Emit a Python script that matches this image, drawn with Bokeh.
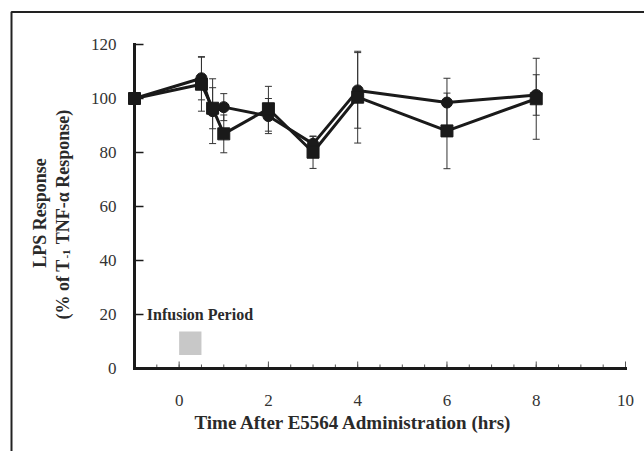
from math import pi
from bokeh.plotting import figure
from bokeh.models import Range1d, ColumnDataSource, Whisker, TeeHead, Label
from bokeh.core.properties import value
from bokeh.embed import file_html
from bokeh.resources import INLINE

# ---- data ----
time_hrs = [-1, 0.5, 0.75, 1, 2, 3, 4, 6, 8]
circle_vals = [100, 107.5, 95.3, 96.8, 93.5, 83.2, 103, 98.5, 101.3]
circle_err = [0, 8, 12, 5, 6.5, 2.7, 14, 9, 7.5]
square_vals = [100, 105.3, 96.4, 86.9, 96.2, 80.1, 100.5, 88, 99.9]
square_err = [0, 10, 7.6, 7, 8.3, 6, 17, 14, 15]
x_ticks = [0, 2, 4, 6, 8, 10]
x_tick_labels = ["0", "2", "4", "6", "8", "10"]
x_minor = [-0.5 + 0.5 * i for i in range(22)]
y_ticks = [0, 20, 40, 60, 80, 100, 120]
y_tick_labels = ["0", "20", "40", "60", "80", "100", "120"]
infusion = dict(left=[0], right=[0.5], bottom=[5], top=[13.7])

FONT = "Liberation Serif"
INK = "#1a1a1a"
TXT = "#2a2a2a"

# frame covers the whole canvas; axes are drawn inside it
X0, X1 = -1.0, 10.0   # axis extent
Y0, Y1 = 0.0, 120.0
PX_X = 491 / 11.0     # pixels per x unit
PX_Y = 324 / 120.0    # pixels per y unit

p = figure(width=644, height=451, output_backend="svg", toolbar_location=None,
           x_range=Range1d(X0 - 134 / PX_X, X0 + 644 / PX_X - 134 / PX_X),
           y_range=Range1d(Y0 - (451 - 368) / PX_Y, Y0 + 368 / PX_Y),
           x_axis_location=None, y_axis_location=None,
           min_border=0)
p.outline_line_color = None
p.xgrid.visible = False
p.ygrid.visible = False
p.background_fill_color = "white"
p.border_fill_color = "white"

# outer frame (top and left edges)
fx = X0 - (134 - 11) / PX_X
fy = Y0 + (368 - 11.5) / PX_Y
p.line([fx, fx, 20], [-100, fy, fy], line_color="#222222", line_width=2)

# infusion period box
p.quad(source=ColumnDataSource(infusion), left="left", right="right", bottom="bottom",
       top="top", fill_color="#c8c8c8", line_color=None)

# ticks
maj_len = 7 / PX_Y
min_len = 4 / PX_Y
p.segment(x0=x_minor, y0=[Y0] * len(x_minor), x1=x_minor, y1=[Y0 + min_len] * len(x_minor),
          line_color="#555555", line_width=1)
p.segment(x0=x_ticks, y0=[Y0] * len(x_ticks), x1=x_ticks, y1=[Y0 + maj_len] * len(x_ticks),
          line_color="#555555", line_width=1)
ylen = 9 / PX_X
p.segment(x0=[X0] * len(y_ticks), y0=y_ticks, x1=[X0 + ylen] * len(y_ticks), y1=y_ticks,
          line_color=INK, line_width=1.5)

# axis lines
p.segment(x0=[X0, X0], y0=[Y0, Y0], x1=[X1, X0], y1=[Y0, Y1],
          line_color=INK, line_width=3, line_cap="square")

# tick labels
p.text(x=x_ticks, y=[Y0 - 32 / PX_Y] * len(x_ticks), text=x_tick_labels,
       text_font=value(FONT), text_font_size="17px", text_color="#333333",
       text_align="center", text_baseline="alphabetic")
p.text(x=[X0 - 18 / PX_X] * len(y_ticks), y=y_ticks, text=y_tick_labels,
       text_font=value(FONT), text_font_size="17px", text_color="#333333",
       text_align="right", text_baseline="middle")

# error bars
for vals, errs in ((circle_vals, circle_err), (square_vals, square_err)):
    xs = time_hrs[1:]
    src = ColumnDataSource(dict(x=xs,
                                upper=[v + e for v, e in zip(vals[1:], errs[1:])],
                                lower=[v - e for v, e in zip(vals[1:], errs[1:])]))
    w = Whisker(source=src, base="x", upper="upper", lower="lower",
                line_color="#333333", line_width=1, level="underlay",
                upper_head=TeeHead(size=7, line_color="#333333", line_width=1),
                lower_head=TeeHead(size=7, line_color="#333333", line_width=1))
    p.add_layout(w)

p.line(time_hrs, circle_vals, line_color=INK, line_width=3)
p.line(time_hrs, square_vals, line_color=INK, line_width=3)
p.scatter(time_hrs, circle_vals, marker="circle", size=11, fill_color=INK, line_color=INK)
p.scatter(time_hrs, square_vals, marker="square", size=12, fill_color=INK, line_color=INK)

# text annotations
p.add_layout(Label(x=-0.724, y=20, text="Infusion Period", text_font=FONT,
                   text_font_size="16px", text_font_style="bold", text_color=TXT,
                   text_baseline="alphabetic"))
p.add_layout(Label(x=3.91, y=-20, text="Time After E5564 Administration (hrs)",
                   text_font=FONT, text_font_size="19px", text_font_style="bold",
                   text_color=TXT, text_align="center", text_baseline="alphabetic"))
p.add_layout(Label(x=-3.128, y=57.6, text="LPS Response", angle=pi / 2,
                   text_font=FONT, text_font_size="18px", text_font_style="bold",
                   text_color=TXT, text_align="center", text_baseline="middle"))
p.add_layout(Label(x=-2.613, y=40.4, text="(% of T", angle=pi / 2,
                   text_font=FONT, text_font_size="18px", text_font_style="bold",
                   text_color=TXT, text_align="right", text_baseline="middle"))
p.add_layout(Label(x=-2.524, y=40.7, text="-1", angle=pi / 2,
                   text_font=FONT, text_font_size="11px", text_font_style="bold",
                   text_color=TXT, text_align="left", text_baseline="middle"))
p.add_layout(Label(x=-2.613, y=46.0, text="TNF-\u03b1 Response)", angle=pi / 2,
                   text_font=FONT, text_font_size="18px", text_font_style="bold",
                   text_color=TXT, text_align="left", text_baseline="middle"))

open("out.html", "w").write(file_html(p, INLINE))
